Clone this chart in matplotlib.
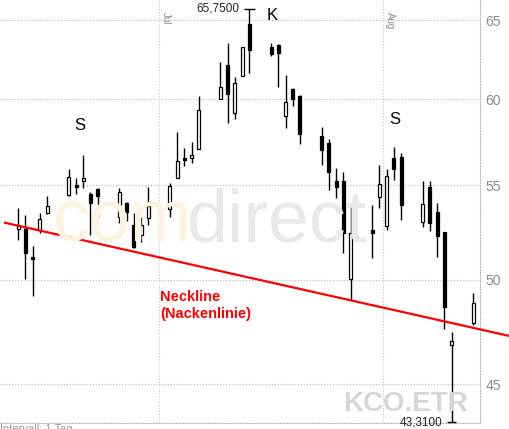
import matplotlib
matplotlib.use("Agg")
import matplotlib.pyplot as plt
from matplotlib.patches import Rectangle
from matplotlib.ticker import FixedLocator, FixedFormatter, NullLocator
import pandas as pd

plt.rcParams['font.family'] = ['Liberation Sans', 'DejaVu Sans']

# ---------------- data ----------------
dates = ["2007-06-11", "2007-06-12", "2007-06-13", "2007-06-14", "2007-06-15",
         "2007-06-18", "2007-06-19", "2007-06-20", "2007-06-21", "2007-06-22",
         "2007-06-25", "2007-06-26", "2007-06-27", "2007-06-28", "2007-06-29",
         "2007-07-02", "2007-07-03", "2007-07-04", "2007-07-05", "2007-07-06",
         "2007-07-09", "2007-07-10", "2007-07-11", "2007-07-12", "2007-07-13",
         "2007-07-16", "2007-07-17", "2007-07-18", "2007-07-19", "2007-07-20",
         "2007-07-23", "2007-07-24", "2007-07-25", "2007-07-26", "2007-07-27",
         "2007-07-30", "2007-07-31", "2007-08-01", "2007-08-02", "2007-08-03",
         "2007-08-06", "2007-08-07", "2007-08-08", "2007-08-09", "2007-08-10",
         "2007-08-13"]
opens = [52.63, 52.63, 51.15, 52.58, 53.49, 54.47, 55.00, 55.24, 54.52, 54.80,
         53.27, 54.03, 52.84, 52.31, 53.22, 53.70, 55.41, 56.54, 56.54, 57.06,
         60.01, 62.11, 59.17, 61.40, 64.74, 63.25, 63.38, 58.99, 60.62, 60.20,
         57.81, 57.41, 55.24, 55.24, 50.04, 52.58, 54.36, 52.79, 56.54, 56.60,
         53.00, 54.91, 53.54, 52.47, 46.81, 47.86]
highs = [53.76, 53.38, 51.73, 53.49, 54.41, 55.92, 55.41, 56.71, 54.63, 54.85,
         54.85, 54.08, 53.49, 53.27, 54.91, 55.13, 58.05, 57.12, 57.46, 60.20,
         62.30, 63.51, 61.36, 63.25, 65.75, 63.51, 63.44, 61.49, 60.69, 60.26,
         58.34, 57.64, 55.97, 55.75, 53.98, 53.92, 56.14, 55.92, 57.17, 56.83,
         55.24, 55.24, 54.03, 52.47, 47.43, 49.34]
lows = [52.05, 50.04, 49.19, 52.42, 53.43, 54.41, 54.52, 54.85, 52.31, 53.22,
        52.95, 53.06, 51.63, 51.94, 52.84, 53.27, 55.41, 56.09, 56.26, 57.06,
        60.01, 58.58, 58.81, 61.40, 61.61, 62.68, 60.75, 58.28, 59.59, 57.35,
        56.14, 54.74, 54.30, 51.37, 48.99, 51.11, 53.76, 52.58, 55.30, 53.11,
        52.74, 52.52, 51.16, 47.57, 43.31, 47.77]
closes = [52.79, 51.37, 51.07, 53.16, 53.87, 55.47, 54.94, 55.41, 54.03, 54.41,
          54.63, 53.54, 51.68, 52.84, 53.87, 54.97, 56.37, 56.43, 56.71, 59.35,
          60.75, 60.32, 60.99, 63.25, 63.06, 62.81, 62.87, 59.83, 60.01, 57.93,
          57.00, 55.75, 54.91, 52.42, 52.42, 52.42, 55.08, 55.52, 55.92, 53.92,
          53.98, 52.95, 52.26, 48.64, 47.00, 48.84]

price_ticks = [45, 50, 55, 60, 65]
price_tick_labels = ["45", "50", "55", "60", "65"]
months = ["Jul", "Aug"]
month_starts = ["2007-07-01", "2007-08-01"]

neck_x = [-21.98, 47.94]          # days relative to 1 Jul 2007
neck_prices = [52.98, 47.25]

high_label = "65,7500"
low_label = "43,3100"

# -------------- helpers ---------------
ref = pd.Timestamp("2007-07-01")
days = [(pd.Timestamp(d) - ref).days for d in dates]
month_x = [(pd.Timestamp(d) - ref).days - 0.5 for d in month_starts]

W, H = 509, 429
def px(x, y):
    return x / W, 1 - y / H

fig = plt.figure(figsize=(W / 100, H / 100), dpi=100)
ax = fig.add_axes([0, 6 / H, 480 / W, 423 / H])
ax.set_yscale('log')
ax.set_ylim(43.27, 66.33)
ax.set_xlim(-22.53, 43.93)

# watermark
fig.text(*px(53, 242), "com", fontsize=53, color='#fdf4e0', va='baseline', ha='left', zorder=0)
fig.text(*px(187, 242), "direct", fontsize=53, color='#e9e9e9', va='baseline', ha='left', zorder=0)
fig.text(*px(468, 411), "KCO.ETR", fontsize=20, fontweight='bold', color='#d6d6d6',
         va='baseline', ha='right', zorder=0)
ax.patch.set_alpha(0)

# grid
ax.yaxis.set_major_locator(FixedLocator(price_ticks))
ax.yaxis.set_major_formatter(FixedFormatter(price_tick_labels))
ax.yaxis.set_minor_locator(NullLocator())
ax.yaxis.tick_right()
ax.tick_params(axis='y', length=0, pad=4, labelsize=10, labelcolor='#8a8a8a')
ax.set_xticks([])
for p in price_ticks:
    ax.axhline(p, color='#b8b8b8', lw=0.8, ls=(0, (1, 1.6)), zorder=1)
for mx, mname in zip(month_x, months):
    ax.axvline(mx, color='#c4c4d4', lw=0.8, ls=(0, (1, 1.6)), zorder=1)
    ax.annotate(mname, xy=(mx, 1), xycoords=('data', 'axes fraction'),
                xytext=(1.5, -12 * 0.72), textcoords='offset points',
                rotation=270, ha='left', va='top', fontsize=7, color='#8a8a8a')

for s in ['top', 'left']:
    ax.spines[s].set_visible(False)
for s in ['right', 'bottom']:
    ax.spines[s].set_color('#b8b8b8')
    ax.spines[s].set_linestyle((0, (1, 1.6)))
    ax.spines[s].set_linewidth(0.8)

# candles
bw = 0.42
for d, o, h, l, c in zip(days, opens, highs, lows, closes):
    ax.vlines(d, l, h, color='black', lw=1.0, zorder=3)
    lo, hi = min(o, c), max(o, c)
    face = 'white' if c > o else 'black'
    ax.add_patch(Rectangle((d - bw / 2, lo), bw, hi - lo, facecolor=face,
                           edgecolor='black', lw=0.9, zorder=4))

# neckline
ax.plot(neck_x, neck_prices, color='#ff0000', lw=1.6, zorder=5, clip_on=False,
        solid_capstyle='butt')

# high / low markers
imax = highs.index(max(highs))
imin = lows.index(min(lows))
ax.hlines(highs[imax], days[imax] - 0.75, days[imax] + 0.75, color='black', lw=1.0, zorder=4)
ax.annotate(high_label, xy=(days[imax] - 0.75, highs[imax]), xytext=(-3, 0),
            textcoords='offset points', ha='right', va='center', fontsize=8.5, color='#222222')
ax.hlines(lows[imin], days[imin] - 0.65, days[imin] + 0.65, color='black', lw=1.0, zorder=4,
          clip_on=False)
ax.annotate(low_label, xy=(days[imin] - 0.65, lows[imin]), xytext=(-3, 0),
            textcoords='offset points', ha='right', va='center', fontsize=8.5, color='#222222',
            annotation_clip=False)

# pattern labels
fig.text(*px(80, 126), "S", fontsize=12, ha='center', va='center', color='black')
fig.text(*px(272, 16), "K", fontsize=12, ha='center', va='center', color='black')
fig.text(*px(395, 119.5), "S", fontsize=12, ha='center', va='center', color='black')

fig.text(*px(160, 290), "Neckline\n(Nackenlinie)", fontsize=10.5, fontweight='bold',
         color='#ff0000', ha='left', va='top', linespacing=1.3)

fig.text(*px(0, 423.5), "Intervall: 1 Tag", fontsize=8, color='#999999', ha='left', va='top')

fig.savefig("out.png", dpi=100)
